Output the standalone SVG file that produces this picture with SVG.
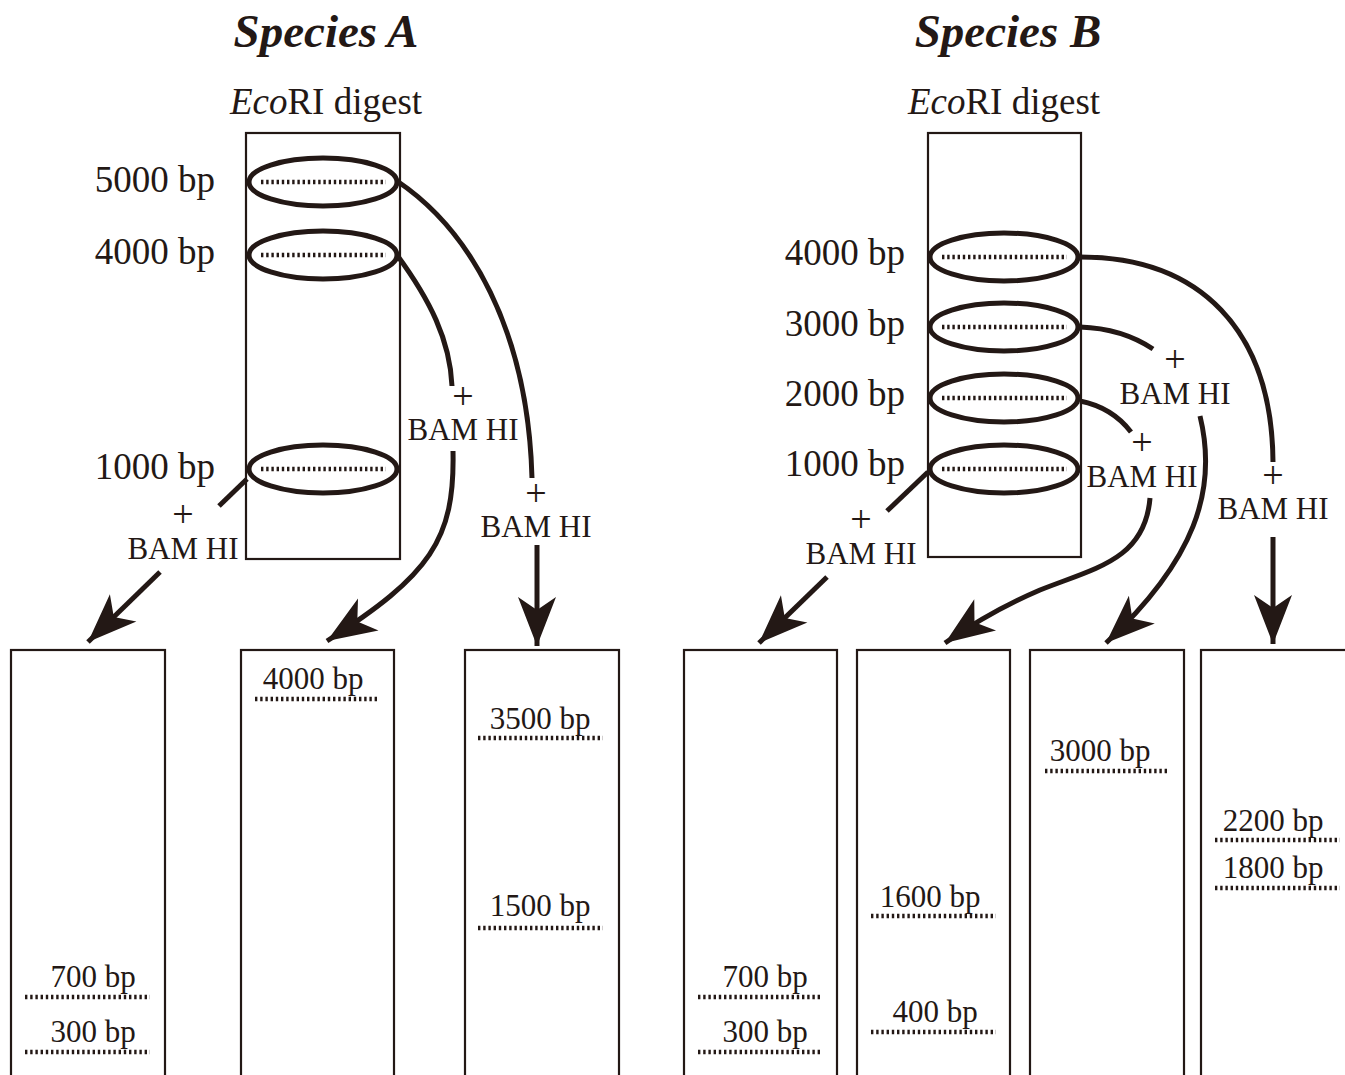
<svg xmlns="http://www.w3.org/2000/svg" width="1345" height="1075" viewBox="0 0 1345 1075">
<style>
text{font-family:"Liberation Serif","Times New Roman",serif;fill:#231815}
.h{font-size:47px;font-weight:bold;font-style:italic;text-anchor:middle}
.t{font-size:37px}
.mw{font-size:37px;text-anchor:end}
.bam{font-size:31px;text-anchor:middle}
.pl{font-size:38px;text-anchor:middle}
.bl{font-size:31px;text-anchor:middle}
.gel{fill:none;stroke:#231815;stroke-width:2.2}
.ell{fill:none;stroke:#231815;stroke-width:5}
.band{stroke:#231815;stroke-width:4.5;stroke-dasharray:2.4 2.8;fill:none}
.c{fill:none;stroke:#231815;stroke-width:5}
.a{fill:none;stroke:#231815;stroke-width:5;marker-end:url(#ah)}
</style>
<defs>
<marker id="ah" markerUnits="userSpaceOnUse" viewBox="-50 -20 52 40" refX="0" refY="0" markerWidth="52" markerHeight="40" orient="auto">
<path d="M0,0 L-49,-19 L-36,0 L-49,19 Z" fill="#231815"/>
</marker>
</defs>
<rect width="1345" height="1075" fill="#fff"/>
<g id="titleA"><text class="h" x="326" y="47">Species A</text></g>
<g id="titleB"><text class="h" x="1008" y="47">Species B</text></g>
<g id="digestA">
<text class="t" x="326" y="114" text-anchor="middle"><tspan font-style="italic">Eco</tspan>RI digest</text>
<rect class="gel" x="246" y="133" width="154" height="426"/>
<ellipse class="ell" cx="323" cy="182" rx="74" ry="24"/>
<line class="band" x1="261" y1="182" x2="386" y2="182"/>
<ellipse class="ell" cx="323" cy="255" rx="74" ry="24"/>
<line class="band" x1="261" y1="255" x2="386" y2="255"/>
<ellipse class="ell" cx="323" cy="469" rx="74" ry="24"/>
<line class="band" x1="261" y1="469" x2="386" y2="469"/>
<text class="mw" x="215" y="192">5000 bp</text>
<text class="mw" x="215" y="264">4000 bp</text>
<text class="mw" x="215" y="479">1000 bp</text>
</g>
<g id="digestB">
<text class="t" x="1004" y="114" text-anchor="middle"><tspan font-style="italic">Eco</tspan>RI digest</text>
<rect class="gel" x="928" y="133" width="153" height="424"/>
<ellipse class="ell" cx="1004" cy="257" rx="74" ry="24"/>
<line class="band" x1="942" y1="257" x2="1067" y2="257"/>
<ellipse class="ell" cx="1004" cy="327" rx="74" ry="24"/>
<line class="band" x1="942" y1="327" x2="1067" y2="327"/>
<ellipse class="ell" cx="1004" cy="398" rx="74" ry="24"/>
<line class="band" x1="942" y1="398" x2="1067" y2="398"/>
<ellipse class="ell" cx="1004" cy="469" rx="74" ry="24"/>
<line class="band" x1="942" y1="469" x2="1067" y2="469"/>
<text class="mw" x="905" y="265">4000 bp</text>
<text class="mw" x="905" y="336">3000 bp</text>
<text class="mw" x="905" y="406">2000 bp</text>
<text class="mw" x="905" y="476">1000 bp</text>
</g>
<g id="connectors">
<path class="c" d="M397,181 C470,230 528,330 532,478"/>
<path class="a" d="M537,545 L537,646"/>
<path class="c" d="M397,255 C430,300 450,340 452,386"/>
<path class="a" d="M453,451 C455,540 430,575 327,641"/>
<path class="c" d="M247,479 L219,506"/>
<path class="a" d="M160,572 L88,642"/>
<path class="c" d="M1080,257 C1200,257 1272,330 1273,462"/>
<path class="a" d="M1273,537 L1273,644"/>
<path class="c" d="M1080,327 C1110,328 1135,337 1153,349"/>
<path class="a" d="M1200,416 C1218,490 1195,560 1106,643"/>
<path class="c" d="M1080,401 C1100,405 1118,415 1131,432"/>
<path class="a" d="M1150,498 C1145,560 1095,568 1040,590 C1005,605 975,622 945,643"/>
<path class="c" d="M928,472 L887,511"/>
<path class="a" d="M827,577 L759,643"/>
</g>
<g id="labels">
<text class="pl" x="183" y="527">+</text>
<text class="bam" x="183" y="559">BAM HI</text>
<text class="pl" x="463" y="409">+</text>
<text class="bam" x="463" y="440">BAM HI</text>
<text class="pl" x="536" y="506">+</text>
<text class="bam" x="536" y="537">BAM HI</text>
<text class="pl" x="861" y="532">+</text>
<text class="bam" x="861" y="564">BAM HI</text>
<text class="pl" x="1142" y="455">+</text>
<text class="bam" x="1142" y="487">BAM HI</text>
<text class="pl" x="1175" y="372">+</text>
<text class="bam" x="1175" y="404">BAM HI</text>
<text class="pl" x="1273" y="488">+</text>
<text class="bam" x="1273" y="519">BAM HI</text>
</g>
<g id="laneA1">
<rect class="gel" x="11" y="650" width="154" height="450"/>
<text class="bl" x="93" y="987">700 bp</text><line class="band" x1="25" y1="997" x2="150" y2="997"/>
<text class="bl" x="93" y="1042">300 bp</text><line class="band" x1="25" y1="1052" x2="150" y2="1052"/>
</g>
<g id="laneA2">
<rect class="gel" x="241" y="650" width="153" height="450"/>
<text class="bl" x="313" y="689">4000 bp</text><line class="band" x1="255" y1="699" x2="379" y2="699"/>
</g>
<g id="laneA3">
<rect class="gel" x="465" y="650" width="154" height="450"/>
<text class="bl" x="540" y="729">3500 bp</text><line class="band" x1="478" y1="738" x2="603" y2="738"/>
<text class="bl" x="540" y="916">1500 bp</text><line class="band" x1="478" y1="928" x2="603" y2="928"/>
</g>
<g id="laneB1">
<rect class="gel" x="684" y="650" width="153" height="450"/>
<text class="bl" x="765" y="987">700 bp</text><line class="band" x1="698" y1="997" x2="822" y2="997"/>
<text class="bl" x="765" y="1042">300 bp</text><line class="band" x1="698" y1="1052" x2="822" y2="1052"/>
</g>
<g id="laneB2">
<rect class="gel" x="857" y="650" width="153" height="450"/>
<text class="bl" x="930" y="907">1600 bp</text><line class="band" x1="871" y1="916" x2="996" y2="916"/>
<text class="bl" x="935" y="1022">400 bp</text><line class="band" x1="871" y1="1032" x2="996" y2="1032"/>
</g>
<g id="laneB3">
<rect class="gel" x="1030" y="650" width="154" height="450"/>
<text class="bl" x="1100" y="761">3000 bp</text><line class="band" x1="1045" y1="771" x2="1169" y2="771"/>
</g>
<g id="laneB4">
<rect class="gel" x="1201" y="650" width="154" height="450"/>
<text class="bl" x="1273" y="831">2200 bp</text><line class="band" x1="1215" y1="840" x2="1340" y2="840"/>
<text class="bl" x="1273" y="878">1800 bp</text><line class="band" x1="1215" y1="888" x2="1340" y2="888"/>
</g>
</svg>
